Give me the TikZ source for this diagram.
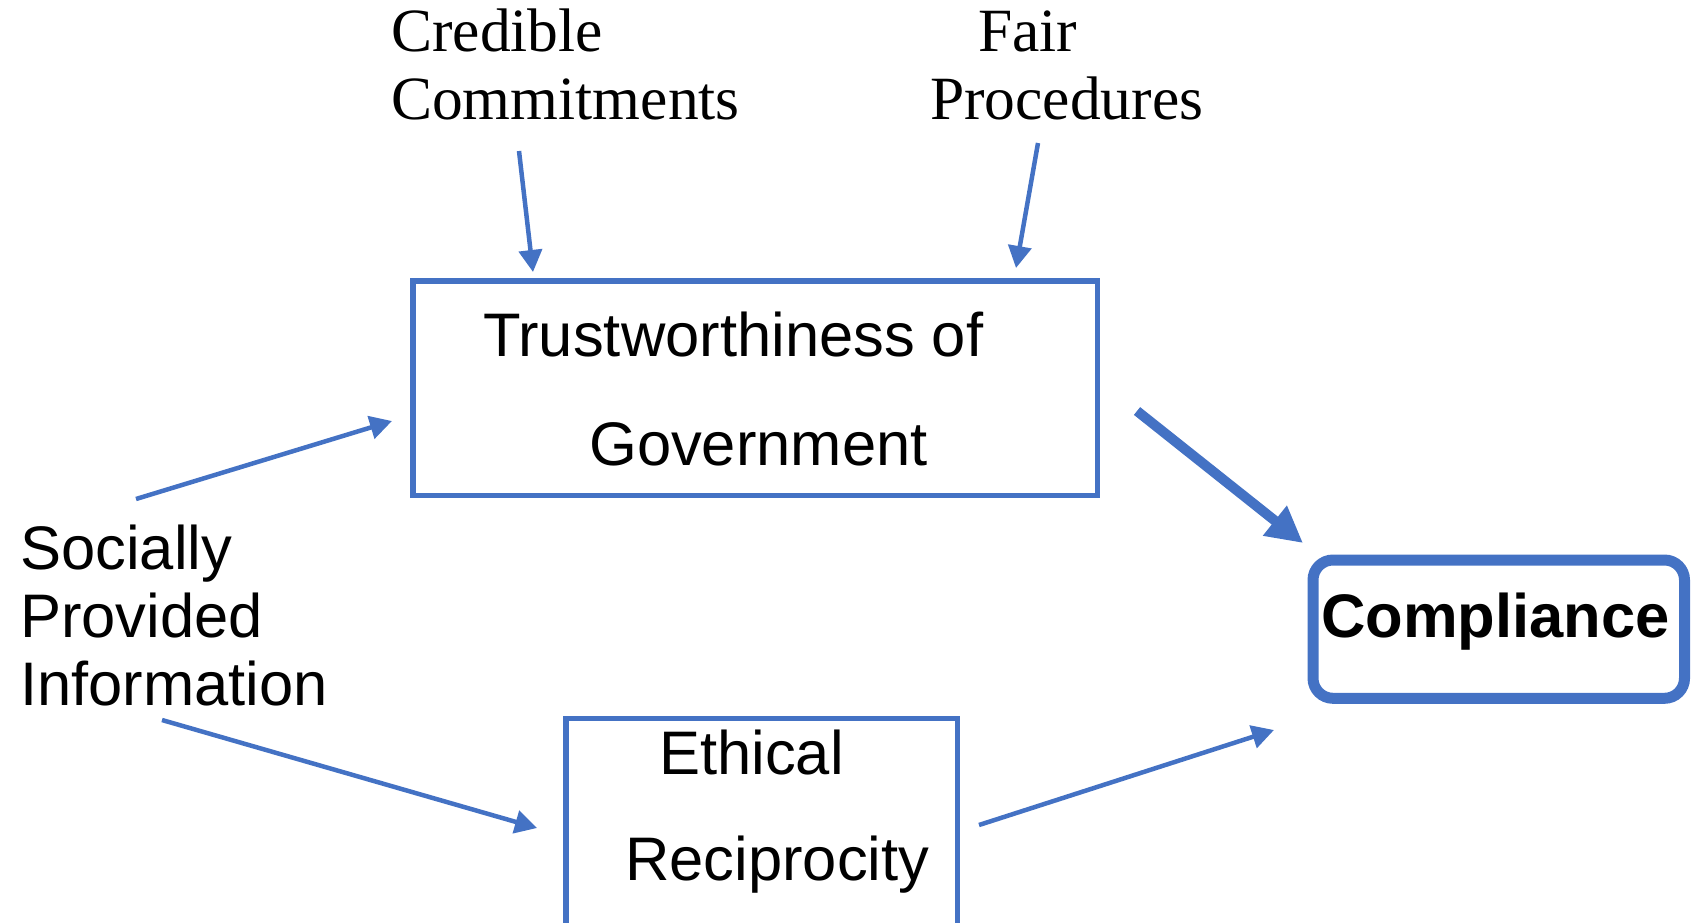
\documentclass[tikz,border=0pt]{standalone}
\usepackage{fontspec}
\setmainfont{Liberation Serif}
\setsansfont{Liberation Sans}
\usetikzlibrary{arrows.meta}
\definecolor{lineblue}{HTML}{4472C4}
\begin{document}
\begin{tikzpicture}[x=1pt,y=-1pt,
  box/.style={draw=lineblue, line width=5.5pt, anchor=north west, inner sep=0pt, outer sep=0pt},
  sanslbl/.style={anchor=base west, inner sep=0pt, font=\sffamily\fontsize{61.5}{68}\selectfont},
  seriflbl/.style={anchor=base west, inner sep=0pt, font=\rmfamily\fontsize{61.5}{68}\selectfont},
  conn/.style={draw=lineblue, line width=4.5pt, -{Triangle[length=22pt,width=23pt]}},
  bigconn/.style={draw=lineblue, line width=10pt, -{Triangle[length=36pt,width=36pt]}}
]
\useasboundingbox (0,0) rectangle (1695,922);
\clip (0,0) rectangle (1695,922);

% boxes
\node[box, minimum width=684.5pt, minimum height=214.3pt] (trust) at (413,281) {};
\node[box, minimum width=391.7pt, minimum height=260pt] (ethic) at (566,718.7) {};
\node[box, line width=11pt, rounded corners=20pt, minimum width=371.5pt, minimum height=138.3pt] (comp) at (1313,560) {};

% texts
\node[seriflbl] (cred1) at (391,51) {Credible};
\node[seriflbl] (cred2) at (391,119) {Commitments};
\node[seriflbl] (fair1) at (978,51) {Fair};
\node[seriflbl] (fair2) at (930,119) {Procedures};
\node[sanslbl] (trust1) at (483,356) {Trustworthiness of};
\node[sanslbl] (trust2) at (589,465) {Government};
\node[sanslbl] (soc1) at (20,569) {Socially};
\node[sanslbl] (soc2) at (20,637) {Provided};
\node[sanslbl] (soc3) at (20,705) {Information};
\node[sanslbl] (eth1) at (659,774) {Ethical};
\node[sanslbl] (eth2) at (625,880) {Reciprocity};
\node[sanslbl, font=\sffamily\bfseries\fontsize{61.5}{68}\selectfont] (comp1) at (1321,637) {Compliance};

% connector ends
\coordinate (a1s) at (519,151);  \coordinate (a1e) at (533,272);
\coordinate (a2s) at (1038,143); \coordinate (a2e) at (1016,268);
\coordinate (a3s) at (136,499);  \coordinate (a3e) at (392,421);
\coordinate (a4s) at (162,720);  \coordinate (a4e) at (537,828);
\coordinate (a5s) at (979,825);  \coordinate (a5e) at (1274,730);
\coordinate (a6s) at (1137,411); \coordinate (a6e) at (1303,543);

\draw[conn] (a1s) -- (a1e);
\draw[conn] (a2s) -- (a2e);
\draw[conn] (a3s) -- (a3e);
\draw[conn] (a4s) -- (a4e);
\draw[conn] (a5s) -- (a5e);
\draw[bigconn] (a6s) -- (a6e);
\end{tikzpicture}
\end{document}
